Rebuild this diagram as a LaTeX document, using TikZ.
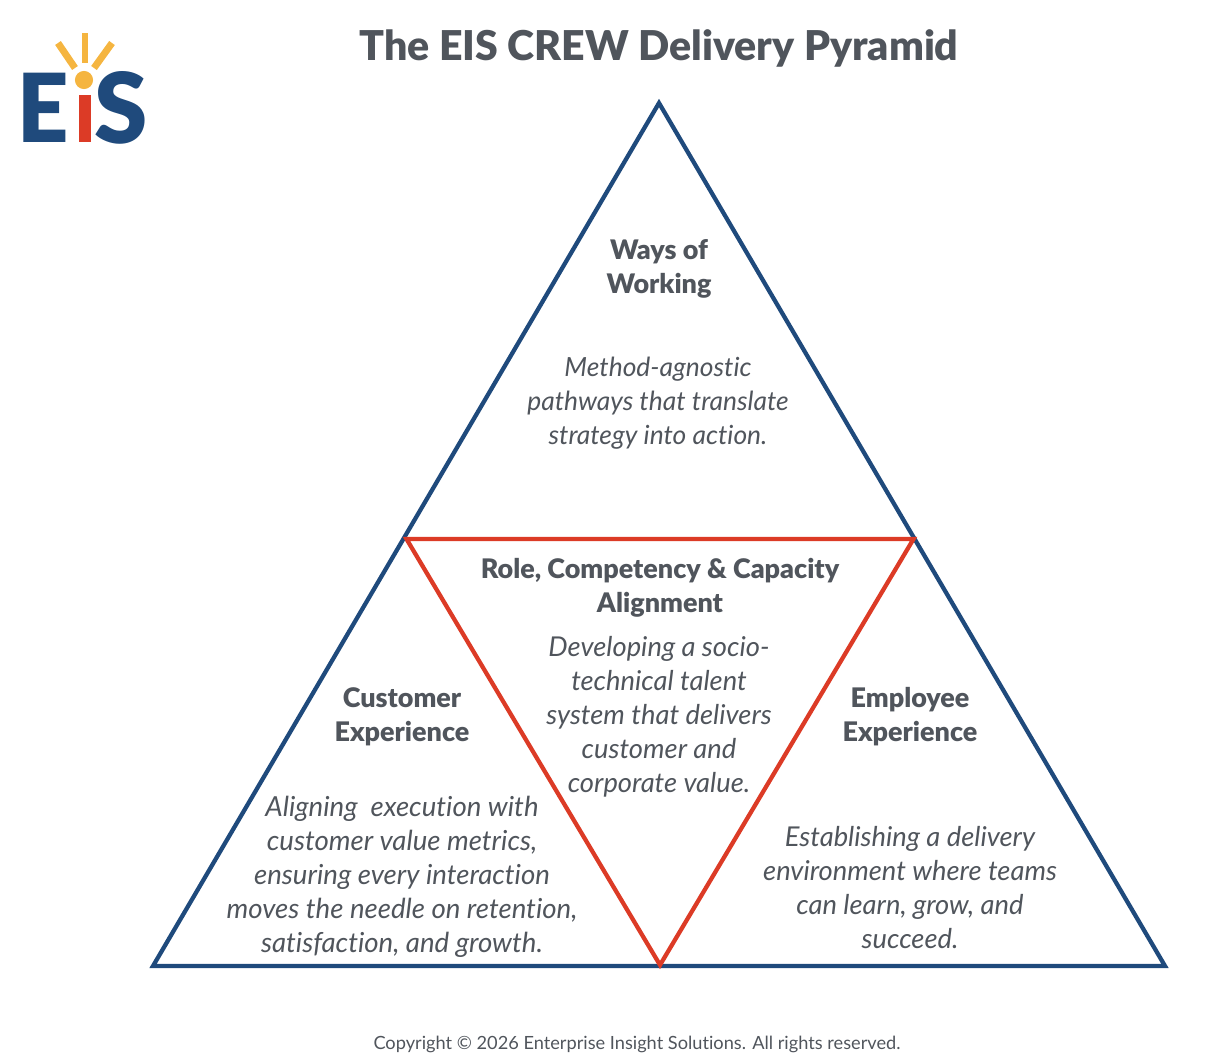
\documentclass[tikz,border=0pt]{standalone}
\usepackage{fontspec}
\setmainfont{Lato}[Ligatures=NoCommon,BoldFont={Lato Black}]
\definecolor{eisblue}{HTML}{1F4A7C}
\definecolor{eisred}{HTML}{DC3B26}
\definecolor{eisyellow}{HTML}{F5B540}
\definecolor{eistext}{HTML}{50555C}
\tikzset{
  head/.style={text=eistext,font=\fontsize{20.2}{25.5}\selectfont\bfseries,align=center,inner sep=0pt},
  body/.style={text=eistext,font=\fontsize{20.5}{25.5}\selectfont\itshape,align=center,inner sep=0pt},
  outer/.style={draw=eisblue,line width=3.2pt,line join=miter},
  inner/.style={draw=eisred,line width=3.2pt,line join=miter},
  ray/.style={draw=eisyellow,line width=5.2pt},
  logoletter/.style={text=eisblue,font=\bfseries,inner sep=0pt}
}
\begin{document}
\begin{tikzpicture}[x=0.75pt,y=-0.75pt]
\useasboundingbox (0,0) rectangle (1214,1061);
\coordinate (apex) at (659,103);
\coordinate (bl) at (153,966);
\coordinate (br) at (1165,966);
\coordinate (il) at (406.5,539);
\coordinate (ir) at (913.5,539);
\coordinate (ib) at (660,965);
\draw[outer] (apex) -- (br) -- (bl) -- cycle;
\draw[inner] (il) -- (ir) -- (ib) -- cycle;
\node[text=eistext,font=\fontsize{30.8}{36}\selectfont\bfseries,inner sep=0pt] (title) at (659,48) {The EIS CREW Delivery Pyramid};
\node[head] (ways) at (659,269) {Ways of\\Working};
\node[body,font=\fontsize{19.8}{25.5}\selectfont\itshape] (waysb) at (658,403) {Method-agnostic\\pathways that translate\\strategy into action.};
\node[head] (role) at (660,588) {Role, Competency \& Capacity\\Alignment};
\node[body] (roleb) at (659,717) {Developing a socio-\\technical talent\\system that delivers\\customer and\\corporate value.};
\node[head] (cust) at (402,717) {Customer\\Experience};
\node[body,font=\fontsize{20.7}{25.5}\selectfont\itshape] (custb) at (402,877) {Aligning\ \ execution with\\customer value metrics,\\ensuring every interaction\\moves the needle on retention,\\satisfaction, and growth.};
\node[head] (emp) at (910,717) {Employee\\Experience};
\node[body] (empb) at (910,888) {Establishing a delivery\\environment where teams\\can learn, grow, and\\succeed.};
\node[text=eistext,font=\fontsize{13.65}{16}\selectfont,inner sep=0pt] (copy) at (637,1044) {Copyright © 2026 Enterprise Insight Solutions. All rights reserved.};
% logo
\node[logoletter] (logoE) at (43.5,107.5) {\resizebox{38.5pt}{52pt}{E}};
\node[logoletter] (logoS) at (121,107.5) {\resizebox{40pt}{54pt}{S}};
\fill[eisred] (79,95) rectangle (91,142);
\fill[eisyellow] (84,80) circle (6.8pt);
\draw[ray] (85,33) -- (85,63);
\draw[ray] (58,43) -- (75,68);
\draw[ray] (112,43) -- (94,68);
\end{tikzpicture}
\end{document}
